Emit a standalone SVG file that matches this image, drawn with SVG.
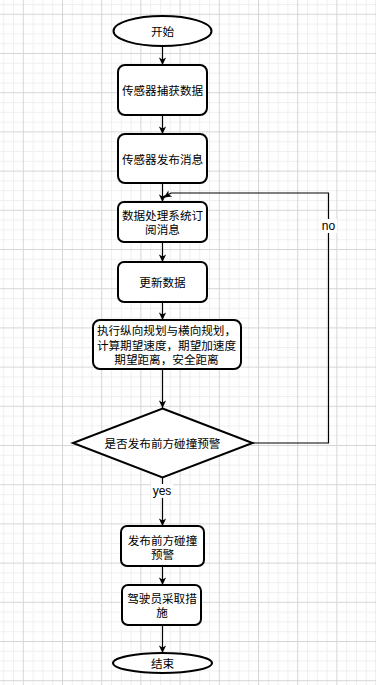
<svg xmlns="http://www.w3.org/2000/svg" width="376" height="685" viewBox="0 0 376 685">
<defs>
<pattern id="grid" patternUnits="userSpaceOnUse" x="22.8" y="13.8" width="39.2" height="39.2">
<rect width="39.2" height="39.2" fill="#ffffff"/>
<rect x="9.8" y="0" width="1" height="39.2" fill="#f0f0f0"/>
<rect x="19.6" y="0" width="1" height="39.2" fill="#f0f0f0"/>
<rect x="29.4" y="0" width="1" height="39.2" fill="#f0f0f0"/>
<rect x="0" y="9.8" width="39.2" height="1" fill="#f0f0f0"/>
<rect x="0" y="19.6" width="39.2" height="1" fill="#f0f0f0"/>
<rect x="0" y="29.4" width="39.2" height="1" fill="#f0f0f0"/>
<rect x="0" y="0" width="1" height="39.2" fill="#d6d6d6"/>
<rect x="0" y="0" width="39.2" height="1" fill="#d6d6d6"/>
</pattern>
<marker id="arr" viewBox="-8 -4 9 8" refX="0" refY="0" markerWidth="9" markerHeight="8" orient="auto" markerUnits="userSpaceOnUse">
<path d="M0,0 L-7.5,-3.6 L-5.5,0 L-7.5,3.6 Z" fill="#000"/>
</marker>
</defs>
<style>
.shape{fill:#ffffff;stroke:#000000;stroke-width:2}
.edge{fill:none;stroke:#000000;stroke-width:1.2;marker-end:url(#arr)}
.t{font-family:"Noto Sans CJK SC","Liberation Sans",sans-serif;font-size:11.6px;fill:#000;text-anchor:middle;dominant-baseline:central}
.l{font-family:"Liberation Sans","Noto Sans CJK SC",sans-serif;font-size:12px;fill:#000;text-anchor:middle;dominant-baseline:central}
</style>
<rect width="376" height="685" fill="url(#grid)"/>
<g id="connectors">
<path class="edge" d="M162.5 47 V65"/>
<path class="edge" d="M162.5 115 V134"/>
<path class="edge" d="M162.5 183 V202"/>
<path class="edge" d="M162.5 242 V262"/>
<path class="edge" d="M162.5 302 V320"/>
<path class="edge" d="M162.5 369 V408"/>
<path class="edge" d="M162.5 478 V526"/>
<path class="edge" d="M162.5 566 V585"/>
<path class="edge" d="M162.5 625 V653"/>
<path class="edge" d="M253 443 H328.5 V193 H171 L164 197.5"/>
<rect x="321" y="219" width="16" height="14" fill="#ffffff"/>
<text class="l" x="328.5" y="226">no</text>
<rect x="151" y="484" width="22" height="14" fill="#ffffff"/>
<text class="l" x="162" y="491">yes</text>
</g>
<g id="start">
<ellipse class="shape" cx="162.5" cy="31" rx="49" ry="15"/>
<text class="t" x="162.5" y="31">开始</text>
</g>
<g id="capture">
<rect class="shape" x="118" y="65" width="89" height="50" rx="7"/>
<text class="t" x="162.5" y="90">传感器捕获数据</text>
</g>
<g id="publish">
<rect class="shape" x="118" y="134" width="89" height="49" rx="7"/>
<text class="t" x="162.5" y="158.5">传感器发布消息</text>
</g>
<g id="subscribe">
<rect class="shape" x="118" y="202" width="89" height="40" rx="6"/>
<text class="t" x="162.5" y="214.75"><tspan x="162.5">数据处理系统订</tspan><tspan x="162.5" dy="14.5">阅消息</tspan></text>
</g>
<g id="update">
<rect class="shape" x="118" y="262" width="89" height="40" rx="6"/>
<text class="t" x="162.5" y="282">更新数据</text>
</g>
<g id="plan">
<rect class="shape" x="93" y="320" width="148" height="49" rx="7"/>
<text class="t" x="166.5" y="330"><tspan x="166.5">执行纵向规划与横向规划，</tspan><tspan x="166.5" dy="14.5">计算期望速度，期望加速度</tspan><tspan x="166.5" dy="14.5">期望距离，安全距离</tspan></text>
</g>
<g id="decision">
<polygon class="shape" points="162.5,408.5 252.5,443 162.5,477.5 73,443"/>
<text class="t" x="162.5" y="443">是否发布前方碰撞预警</text>
</g>
<g id="warn">
<rect class="shape" x="121" y="526" width="83" height="40" rx="6"/>
<text class="t" x="162.5" y="539.5"><tspan x="162.5">发布前方碰撞</tspan><tspan x="162.5" dy="14.5">预警</tspan></text>
</g>
<g id="driver">
<rect class="shape" x="122" y="585" width="79" height="40" rx="6"/>
<text class="t" x="162" y="597.75"><tspan x="162">驾驶员采取措</tspan><tspan x="162" dy="14.5">施</tspan></text>
</g>
<g id="end">
<ellipse class="shape" cx="162.5" cy="663" rx="49.5" ry="10"/>
<text class="t" x="162.5" y="663">结束</text>
</g>
</svg>
